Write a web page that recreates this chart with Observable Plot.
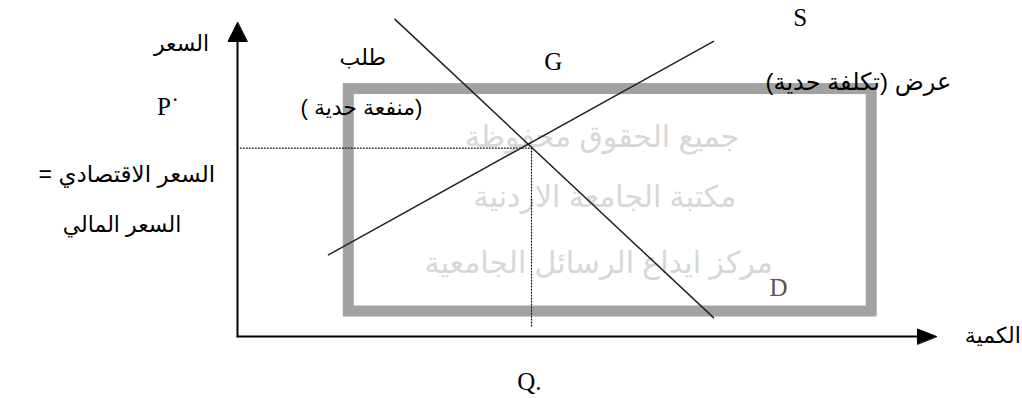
<!DOCTYPE html>
<html><head><meta charset="utf-8">
<script src="https://cdn.jsdelivr.net/npm/d3@7"></script>
<script src="https://cdn.jsdelivr.net/npm/@observablehq/plot@0.6"></script>
<style>body{margin:0;background:#fff;}</style>
</head><body><div id="chart"></div>
<script>
// Curves (quantity, price) in chart units
const demandQ = [22.5, 68];
const demandP = [101, 6];
const supplyQ = [13, 68];
const supplyP = [26, 94];
// Equilibrium
const equilibriumQ = 42;
const equilibriumP = 60;
// Arabic labels
const arLabels = ["السعر", "السعر الاقتصادي =", "السعر المالي", "طلب", "(منفعة حدية )", "عرض (تكلفة حدية)", "الكمية"];
const arQ = [-8, -15.8, -16.5, 17.9, 17.7, 88.7, 107.9];
const arP = [93.3, 51.6, 35.4, 88.8, 72.9, 80.9, 0.3];
// Latin labels
const latLabels = ["P˙", "G", "S", "D", "Q."];
const latQ = [-9.9, 45.1, 80.4, 77.3, 41.7];
const latP = [73.2, 87.3, 101.3, 15.3, -14.6];
// Watermark
const watermarkLines = ["جميع الحقوق محفوظة", "مكتبة الجامعة الاردنية", "مركز ايداع الرسائل الجامعية"];
const watermarkQ = [52.1, 52.5, 51.6];
const watermarkP = [63.4, 44.3, 23.2];
const watermarkBox = {q1: 15.9, q2: 90.6, p1: 7.95, p2: 78.8};
// Axis extents
const axisQmax = 99.86, axisPmax = 100;

// Styling (not data)
const arSize = [22, 23, 22, 22, 22, 24, 22];
const watermarkStretch = [345, 360, 470];

const curves = [
  ...demandQ.map((q, i) => ({series: "D", q, p: demandP[i]})),
  ...supplyQ.map((q, i) => ({series: "S", q, p: supplyP[i]}))
];
const yHead = [{q: 0, p: axisPmax}, {q: -1.36, p: 93.95}, {q: 1.36, p: 93.95}];
const xHead = [{q: axisQmax, p: 0}, {q: 97.14, p: 2.39}, {q: 97.14, p: -2.39}];
const ar = arLabels.map((t, i) => ({t: "\u200F" + t + "\u200F", q: arQ[i], p: arP[i], s: arSize[i]}));
const lat = latLabels.map((t, i) => ({t, q: latQ[i], p: latP[i]}));
const wm = watermarkLines.map((t, i) => ({t: "\u200F" + t + "\u200F", q: watermarkQ[i], p: watermarkP[i]}));

const arFont = "Arial, 'DejaVu Sans', 'Noto Sans', sans-serif";
const serif = "'Liberation Serif', 'Times New Roman', serif";

const chart = Plot.plot({
  width: 1022, height: 398,
  marginLeft: 237, marginRight: 85, marginTop: 22, marginBottom: 62,
  x: {domain: [0, 100], axis: null},
  y: {domain: [0, 100], axis: null},
  style: {background: "#fff", overflow: "visible"},
  marks: [
    Plot.rect([watermarkBox], {x1: "q1", x2: "q2", y1: "p1", y2: "p2", fill: "#fff", stroke: "#a2a2a2", strokeWidth: 11}),
    Plot.text(wm, {x: "q", y: "p", text: "t", fill: "#d7d7d7", fontSize: 30, fontFamily: arFont, ariaLabel: "watermark"}),
    Plot.line([{q: 0.4, p: equilibriumP}, {q: equilibriumQ, p: equilibriumP}], {x: "q", y: "p", stroke: "#111", strokeWidth: 1.2, strokeDasharray: "1,2"}),
    Plot.line([{q: equilibriumQ, p: equilibriumP}, {q: equilibriumQ, p: 3.2}], {x: "q", y: "p", stroke: "#111", strokeWidth: 1.2, strokeDasharray: "1,2"}),
    Plot.line(curves, {x: "q", y: "p", z: "series", stroke: "#222", strokeWidth: 1.5}),
    Plot.line([{q: 0, p: 0}, {q: 0, p: 94.5}], {x: "q", y: "p", stroke: "#000", strokeWidth: 2}),
    Plot.line([{q: 0, p: 0}, {q: 97.5, p: 0}], {x: "q", y: "p", stroke: "#000", strokeWidth: 2}),
    Plot.line(yHead, {x: "q", y: "p", fill: "#000", stroke: "#000", strokeWidth: 1, curve: "linear-closed"}),
    Plot.line(xHead, {x: "q", y: "p", fill: "#000", stroke: "#000", strokeWidth: 1, curve: "linear-closed"}),
    Plot.text(ar, {x: "q", y: "p", text: "t", fill: "#000", fontSize: "s", fontFamily: arFont}),
    Plot.text(lat, {x: "q", y: "p", text: "t", fill: (d) => d.t === "D" ? "#555" : "#000", fontSize: 25, fontFamily: serif})
  ]
});
d3.select(chart).selectAll("g[aria-label='watermark'] text").each(function(_, i) {
  d3.select(this).attr("textLength", watermarkStretch[i]).attr("lengthAdjust", "spacingAndGlyphs");
});
document.getElementById("chart").appendChild(chart);
</script>
</body></html>
